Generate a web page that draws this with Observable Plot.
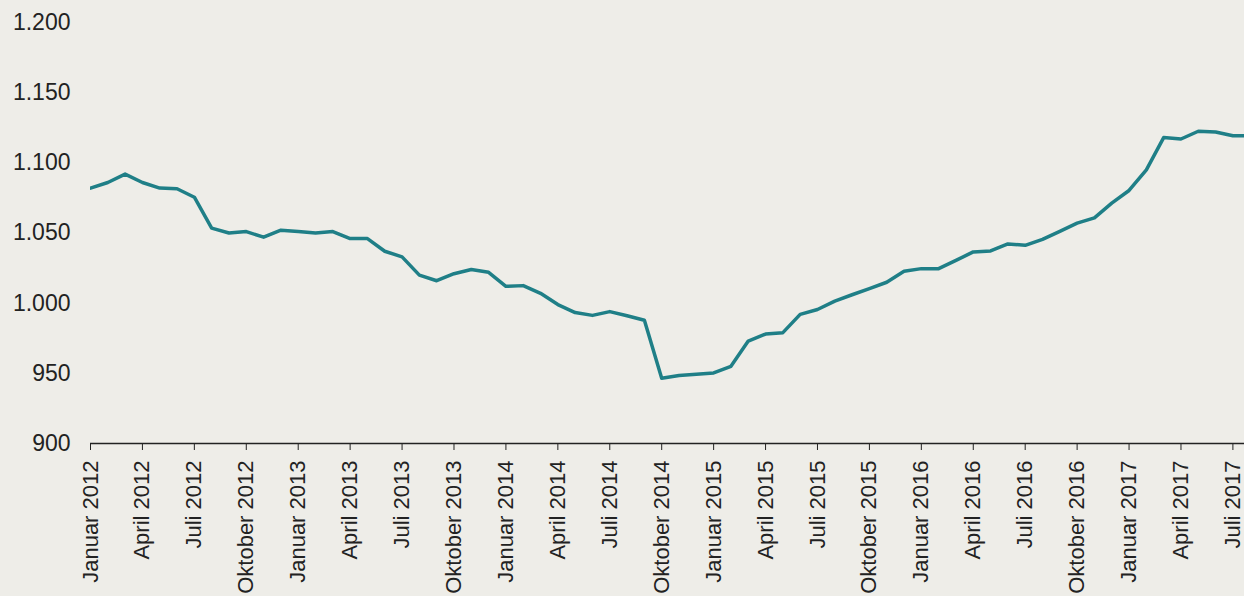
<!DOCTYPE html>
<html>
<head>
<meta charset="utf-8">
<script src="https://cdn.jsdelivr.net/npm/d3@7"></script>
<script src="https://cdn.jsdelivr.net/npm/@observablehq/plot@0.6"></script>
<style>
  html, body { margin: 0; padding: 0; background: #EEEDE8; overflow: hidden; }
  #chart svg { overflow: hidden; }
</style>
</head>
<body>
<div id="chart"></div>
<script>
// Monthly series, Januar 2012 .. August 2017
const monthNames = ["Januar","Februar","März","April","Mai","Juni","Juli","August","September","Oktober","November","Dezember"];
const startYear = 2012;
const values = [
  1082, 1086, 1092, 1086, 1082, 1081.5, 1075.5, 1053.5, 1050, 1051, 1047, 1052,
  1051, 1050, 1051, 1046, 1046, 1037, 1033, 1020, 1016, 1021, 1024, 1022,
  1012, 1012.5, 1007, 999, 993.3, 991.3, 994, 991, 987.8, 946.5, 948.4, 949.3,
  950.3, 955, 973, 978, 979, 992, 995.5, 1001.5, 1006, 1010.4, 1014.9, 1022.7,
  1024.6, 1024.6, 1030.5, 1036.5, 1037.2, 1042.2, 1041.2, 1045.5, 1051.2, 1057, 1060.8, 1071.3,
  1080.3, 1095, 1118, 1117, 1122.5, 1122, 1119.3, 1119.3
];
const yTicks = [900, 950, 1000, 1050, 1100, 1150, 1200];
const xTickStep = 3;

const data = values.map((v, i) => ({
  i,
  label: `${monthNames[i % 12]} ${startYear + Math.floor(i / 12)}`,
  value: v
}));
const xTicks = data.filter(d => d.i % xTickStep === 0 && d.i <= 66).map(d => d.i);
const labelOf = i => data[i].label;
const fmtY = d => d >= 1000 ? d3.format(",")(d).replace(/,/g, ".") : String(d);

const chart = Plot.plot({
  width: 1244,
  height: 596,
  marginLeft: 90,
  marginRight: 0,
  marginTop: 22,
  marginBottom: 153,
  style: { background: "#EEEDE8", fontFamily: "'Liberation Sans', Arial, sans-serif", fontSize: "22px", color: "#222" },
  x: { type: "linear", domain: [0, 66.67], axis: null },
  y: { domain: [900, 1200], axis: null },
  marks: [
    Plot.axisY({ ticks: yTicks, tickSize: 0, tickPadding: 20, tickFormat: fmtY, fontSize: 23, fill: "#222", label: null }),
    Plot.axisX({ ticks: xTicks, tickFormat: labelOf, tickRotate: -90, tickSize: 7, tickPadding: 10, fontSize: 22, fill: "#222", stroke: "#222", label: null }),
    Plot.ruleY([900], { stroke: "#222", strokeWidth: 1.3 }),
    Plot.line(data, { x: "i", y: "value", stroke: "#1F7F87", strokeWidth: 3.5, clip: true })
  ]
});
document.getElementById("chart").append(chart);
</script>
</body>
</html>
